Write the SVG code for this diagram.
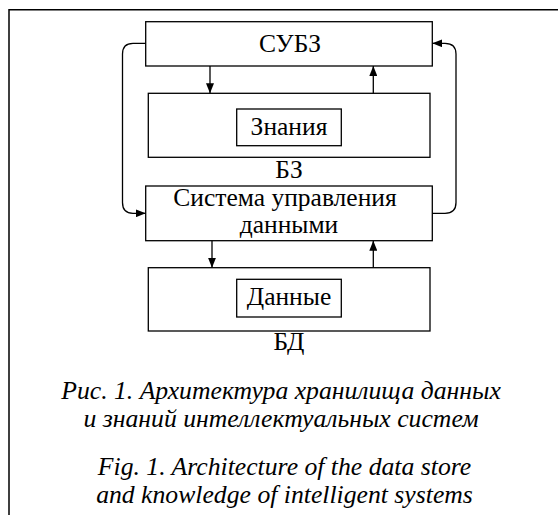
<svg xmlns="http://www.w3.org/2000/svg" width="558" height="515" viewBox="0 0 558 515">
  <style>
    .box { fill: #fff; stroke: #000; stroke-width: 1.3; }
    .ln { fill: none; stroke: #000; stroke-width: 1.3; }
    text { font-family: 'Liberation Serif', 'Times New Roman', serif; fill: #000; text-anchor: middle; }
    .t { font-size: 25.5px; }
    .cap { font-size: 25.7px; font-style: italic; }
  </style>
  <defs>
    <marker id="arr" viewBox="0 0 10 8" refX="10" refY="4" markerWidth="10" markerHeight="8" markerUnits="userSpaceOnUse" orient="auto">
      <path d="M0,0 L10,4 L0,8 Z" fill="#000"/>
    </marker>
  </defs>
  <rect width="558" height="515" fill="#fff"/>
  <!-- outer frame, open to the right and bottom -->
  <path d="M9,515 V9.7 H558" fill="none" stroke="#000" stroke-width="1.5"/>

  <g id="subz">
    <rect class="box" x="145.7" y="21.7" width="286.6" height="44.3"/>
    <text class="t" x="290" y="52">СУБЗ</text>
  </g>
  <g id="bz">
    <rect class="box" x="148.3" y="93.3" width="281.7" height="64"/>
    <rect class="box" x="236.7" y="109" width="104.6" height="36.7"/>
    <text class="t" x="289" y="135">Знания</text>
    <text class="t" x="289" y="178.3">БЗ</text>
  </g>
  <g id="sud">
    <rect class="box" x="145.7" y="186" width="286.6" height="54.7"/>
    <text class="t" x="285" y="206">Система управления</text>
    <text class="t" x="289" y="233.3">данными</text>
  </g>
  <g id="bd">
    <rect class="box" x="148.3" y="267.7" width="281.7" height="63.3"/>
    <rect class="box" x="236.7" y="279.3" width="104.6" height="37.7"/>
    <text class="t" x="289" y="305">Данные</text>
    <text class="t" x="289" y="350">БД</text>
  </g>

  <g id="connectors">
    <path class="ln" d="M210,66 V93.3" marker-end="url(#arr)"/>
    <path class="ln" d="M373.3,93.3 V66" marker-end="url(#arr)"/>
    <path class="ln" d="M212,240.7 V267.7" marker-end="url(#arr)"/>
    <path class="ln" d="M373.3,267.7 V240.7" marker-end="url(#arr)"/>
    <path class="ln" d="M145.7,43.3 H133 Q122.5,43.3 122.5,54 V202.5 Q122.5,213.3 133,213.3 H145.7" marker-end="url(#arr)"/>
    <path class="ln" d="M432.3,213.3 H445 Q456,213.3 456,202.5 V54 Q456,43.3 445,43.3 H432.3" marker-end="url(#arr)"/>
  </g>

  <g id="caption">
    <text class="cap" x="281" y="398.5">Рис. 1. Архитектура хранилища данных</text>
    <text class="cap" x="281" y="426.5">и знаний интеллектуальных систем</text>
    <text class="cap" x="284.5" y="475">Fig. 1. Architecture of the data store</text>
    <text class="cap" x="284.5" y="503">and knowledge of intelligent systems</text>
  </g>
</svg>
